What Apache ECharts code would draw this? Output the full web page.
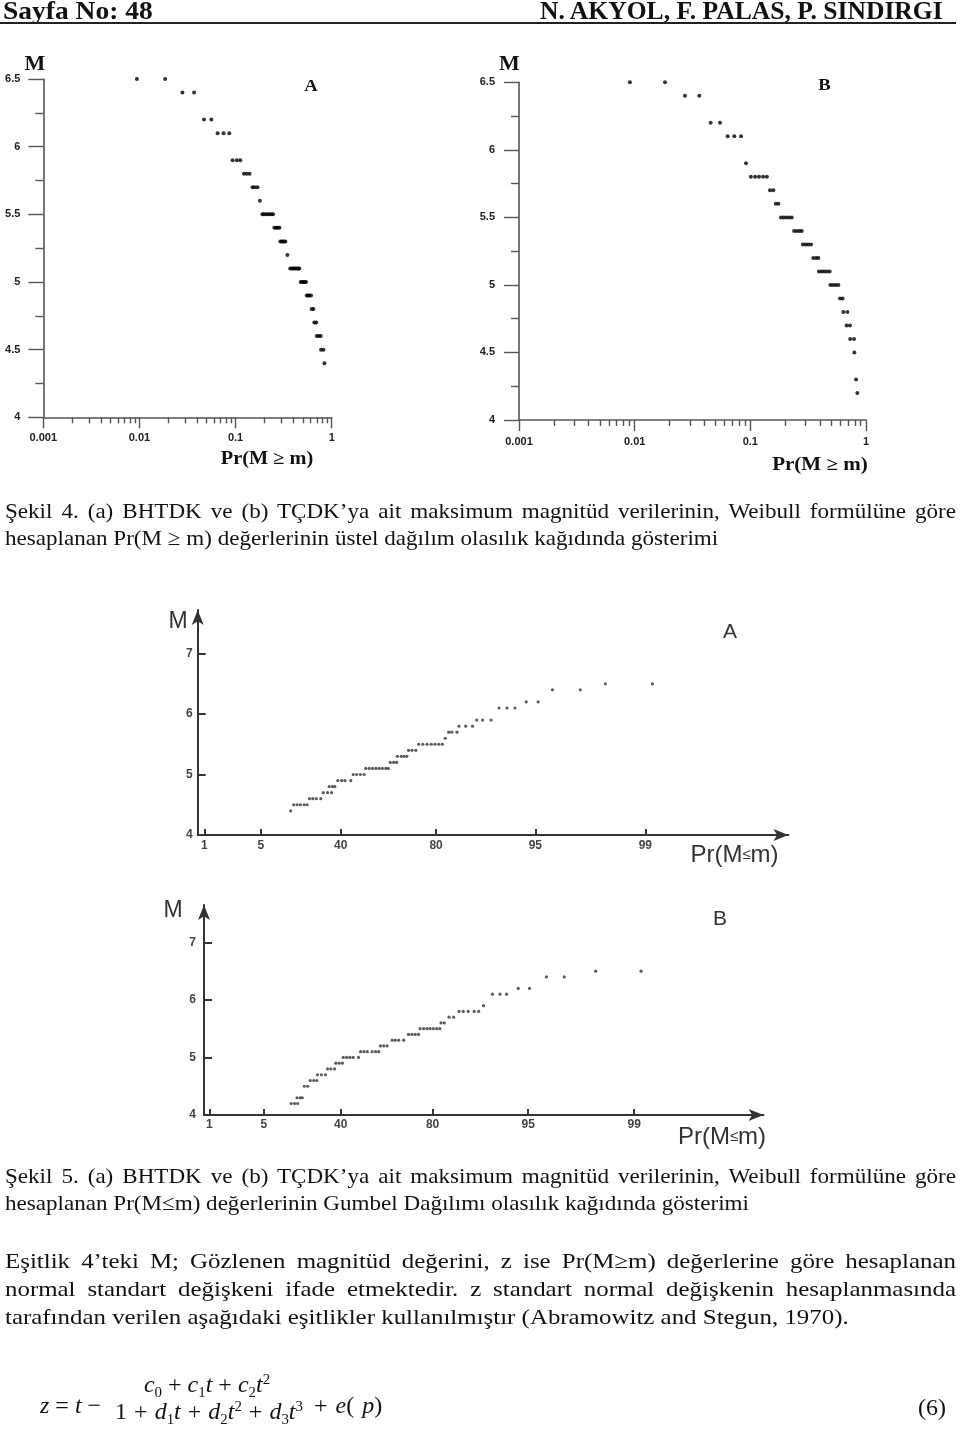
<!DOCTYPE html>
<html><head><meta charset="utf-8">
<script src="https://cdn.jsdelivr.net/npm/echarts@6/dist/echarts.min.js"></script>
<style>
html,body{margin:0;padding:0;background:#fff;}
#page{position:relative;width:960px;height:1444px;overflow:hidden;background:#fff;}
#chart{position:absolute;left:0;top:0;width:960px;height:1444px;}
.txt{position:absolute;font-family:'Liberation Serif','Times New Roman',serif;color:#111;white-space:nowrap;line-height:1;transform-origin:0 0;}
.jl{position:absolute;left:5px;font-family:'Liberation Serif','Times New Roman',serif;line-height:1;color:#111;text-align:justify;text-align-last:justify;transform-origin:0 0;}
.ll{text-align:left;text-align-last:left;}
.sb{font-size:0.62em;position:relative;top:0.32em;}
.sp{font-size:0.62em;position:relative;top:-0.55em;}
</style></head>
<body><div id="page"><div id="chart"></div></div>
<script>
// ---------------- DATA ----------------
// Top-left (A): exponential paper, Pr(M >= m) vs M
const topA_mag = [6.5,6.5, 6.4,6.4, 6.2,6.2, 6.1,6.1,6.1, 5.9,5.9,5.9, 5.8,5.8,5.8, 5.7,5.7,5.7, 5.6,
  5.5,5.5,5.5,5.5,5.5,5.5,5.5, 5.4,5.4,5.4,5.4, 5.3,5.3,5.3,5.3,5.3, 5.2,
  5.1,5.1,5.1,5.1,5.1,5.1,5.1,5.1, 5.0,5.0,5.0,5.0,5.0, 4.9,4.9,4.9,4.9, 4.8,4.8, 4.7,4.7,
  4.6,4.6,4.6, 4.5,4.5, 4.4];
const topA_pr = [0.0094,0.0185, 0.028,0.037, 0.047,0.056, 0.065,0.075,0.086, 0.093,0.103,0.112, 0.122,0.131,0.140, 0.150,0.158,0.169, 0.179,
  0.190,0.197,0.207,0.216,0.226,0.236,0.246, 0.253,0.264,0.275,0.286, 0.292,0.302,0.311,0.320,0.330, 0.346,
  0.370,0.384,0.397,0.410,0.422,0.436,0.450,0.460, 0.476,0.491,0.507,0.524,0.540, 0.550,0.568,0.586,0.610, 0.620,0.645, 0.660,0.690,
  0.700,0.733,0.769, 0.775,0.820, 0.840];

// Top-right (B)
const topB_mag = [6.5,6.5, 6.4,6.4, 6.2,6.2, 6.1,6.1,6.1, 5.9, 5.8,5.8,5.8,5.8,5.8, 5.7,5.7, 5.6,5.6,
  5.5,5.5,5.5,5.5,5.5, 5.4,5.4,5.4,5.4, 5.3,5.3,5.3,5.3, 5.2,5.2,5.2, 5.1,5.1,5.1,5.1,5.1,
  5.0,5.0,5.0,5.0, 4.9,4.9, 4.8,4.8, 4.7,4.7, 4.6,4.6, 4.5, 4.3, 4.2];
const topB_pr = [0.0091,0.0183, 0.0272,0.0362, 0.0454,0.0547, 0.0637,0.0727,0.0831, 0.0917, 0.101,0.110,0.119,0.129,0.139, 0.148,0.158, 0.166,0.175,
  0.184,0.194,0.205,0.216,0.228, 0.239,0.252,0.265,0.278, 0.285,0.301,0.317,0.335, 0.350,0.370,0.387, 0.392,0.414,0.436,0.460,0.485,
  0.492,0.518,0.547,0.577, 0.596,0.628, 0.637,0.690, 0.680,0.727, 0.730,0.788, 0.793, 0.820, 0.841];

// Bottom (A): Gumbel paper, Pr(M <= m) vs M
const botA_mag = [4.4, 4.5,4.5,4.5,4.5,4.5, 4.6,4.6,4.6,4.6, 4.7,4.7,4.7, 4.8,4.8,4.8, 4.9,4.9,4.9,4.9,
  5.0,5.0,5.0,5.0, 5.1,5.1,5.1,5.1,5.1,5.1,5.1,5.1, 5.2,5.2,5.2, 5.3,5.3,5.3,5.3, 5.4,5.4,5.4,
  5.5,5.5,5.5,5.5,5.5,5.5,5.5, 5.6, 5.7,5.7,5.7, 5.8,5.8,5.8, 5.9,5.9,5.9, 6.1,6.1,6.1, 6.2,6.2, 6.4,6.4, 6.5,6.5];
const botA_pr = [0.146, 0.159,0.174,0.189,0.207,0.221, 0.233,0.250,0.268,0.292, 0.305,0.328,0.350, 0.337,0.355,0.368, 0.384,0.405,0.423,0.454,
  0.467,0.485,0.504,0.523, 0.531,0.548,0.564,0.580,0.595,0.610,0.625,0.636, 0.644,0.658,0.670, 0.673,0.688,0.699,0.709, 0.715,0.727,0.740,
  0.749,0.762,0.775,0.787,0.797,0.807,0.816, 0.823, 0.831,0.838,0.849, 0.853,0.866,0.878, 0.885,0.894,0.906, 0.916,0.925,0.933, 0.943,0.952, 0.961,0.974, 0.982,0.991];

// Bottom (B)
const botB_mag = [4.2,4.2,4.2, 4.3,4.3,4.3, 4.5,4.5, 4.6,4.6,4.6, 4.7,4.7,4.7, 4.8,4.8,4.8, 4.9,4.9,4.9,
  5.0,5.0,5.0,5.0,5.0, 5.1,5.1,5.1,5.1,5.1,5.1, 5.2,5.2,5.2, 5.3,5.3,5.3,5.3, 5.4,5.4,5.4,5.4,
  5.5,5.5,5.5,5.5,5.5,5.5,5.5, 5.6,5.6, 5.7,5.7, 5.8,5.8,5.8,5.8,5.8, 5.9, 6.1,6.1,6.1, 6.2,6.2, 6.4,6.4, 6.5,6.5];
const botB_pr = [0.140,0.155,0.169, 0.166,0.181,0.191, 0.201,0.218, 0.231,0.250,0.266, 0.270,0.291,0.314, 0.325,0.344,0.365, 0.372,0.391,0.409,
  0.414,0.433,0.451,0.469,0.498, 0.509,0.527,0.544,0.568,0.585,0.600, 0.608,0.623,0.638, 0.660,0.673,0.687,0.706, 0.724,0.736,0.747,0.758,
  0.763,0.774,0.784,0.793,0.802,0.811,0.819, 0.822,0.830, 0.841,0.851, 0.862,0.870,0.879,0.889,0.896, 0.903, 0.915,0.924,0.931, 0.942,0.951, 0.962,0.971, 0.982,0.991];

// Gumbel-paper tick labels and the probability at which each is printed
// (the original paper prints "1" at its 0.1% position)
const gumbelTickLabels = ['1','5','40','80','95','99'];
const gumbelTickProb   = [0.001, 0.05, 0.40, 0.80, 0.95, 0.99];
const gumbelYTicks = [5, 6, 7];
const gumbelYLabels = [4, 5, 6, 7];

// ---------------- helpers ----------------
const gumbel = p => -Math.log(-Math.log(p));
const gumbelTicks = gumbelTickProb.map(gumbel);
const logMinor = [];
for (let d = -3; d < 0; d++) for (let k = 2; k <= 9; k++) logMinor.push(d + Math.log10(k));
const zip = (xs, ys, f) => xs.map((x, i) => [f ? f(x) : x, ys[i]]);

const TOPC = '#555', BOTC = '#333';
const topLabel = {color:'#222', fontFamily:'Liberation Sans', fontWeight:'bold', fontSize:11};
const botLabel = {color:'#444', fontFamily:'Liberation Sans', fontWeight:'bold', fontSize:12};

function topX(g, margin) {
  return [{
    type:'log', logBase:10, gridIndex:g, min:0.001, max:1, position:'bottom',
    axisLine:{show:true, onZero:false, lineStyle:{color:TOPC, width:1.6}},
    axisTick:{show:true, length:11, lineStyle:{color:TOPC, width:1.4}},
    axisLabel:Object.assign({margin}, topLabel),
    splitLine:{show:false}
  }, {
    type:'value', gridIndex:g, min:-3, max:0, position:'bottom',
    axisLine:{show:false, onZero:false}, axisLabel:{show:false}, splitLine:{show:false},
    axisTick:{show:true, length:6, customValues:logMinor, lineStyle:{color:TOPC, width:1.4}}
  }];
}
function topY(g, margin) {
  return {
    type:'value', gridIndex:g, min:4, max:6.5, interval:0.5, position:'left',
    axisLine:{show:true, onZero:false, lineStyle:{color:TOPC, width:1.6}},
    axisTick:{show:true, length:15, lineStyle:{color:TOPC, width:1.4}},
    minorTick:{show:true, splitNumber:2, length:8, lineStyle:{color:TOPC, width:1.4}},
    axisLabel:Object.assign({margin}, topLabel),
    splitLine:{show:false}, minorSplitLine:{show:false}
  };
}
function botX(g, min, max, margin) {
  return {
    type:'value', gridIndex:g, min, max, position:'bottom',
    axisLine:{show:true, onZero:false, symbol:['none','arrow'], symbolSize:[9,15], lineStyle:{color:BOTC, width:2}},
    axisTick:{show:true, inside:true, length:6, customValues:gumbelTicks, lineStyle:{color:BOTC, width:2}},
    axisLabel:Object.assign({margin, customValues:gumbelTicks, formatter:v => {
      let bi = 0; gumbelTicks.forEach((t, i) => { if (Math.abs(t - v) < Math.abs(gumbelTicks[bi] - v)) bi = i; });
      return gumbelTickLabels[bi];
    }}, botLabel),
    splitLine:{show:false}
  };
}
function botY(g, max, margin) {
  return {
    type:'value', gridIndex:g, min:4, max, position:'left',
    axisLine:{show:true, onZero:false, symbol:['none','arrow'], symbolSize:[9,15], lineStyle:{color:BOTC, width:2}},
    axisTick:{show:true, inside:true, length:8, customValues:gumbelYTicks, lineStyle:{color:BOTC, width:2}},
    axisLabel:Object.assign({margin, customValues:gumbelYLabels}, botLabel),
    splitLine:{show:false}
  };
}
function tx(text, x, y, font, fill, sx) {
  return {type:'text', x, y, z:100, scaleX:sx || 1, style:{text, font, fill:fill || '#111', align:'center', verticalAlign:'middle', textAlign:'center', textVerticalAlign:'middle'}};
}
function prLe(x, y) {
  return {type:'text', x, y, z:100, style:{
    text:'{a|Pr(M}{b|≤}{a|m)}', align:'center', verticalAlign:'middle', textAlign:'center', textVerticalAlign:'middle',
    rich:{a:{fontFamily:'Liberation Sans', fontSize:24, fill:'#333', color:'#333'},
          b:{fontFamily:'Liberation Sans', fontSize:15, fill:'#333', color:'#333'}}
  }};
}

const chart = echarts.init(document.getElementById('chart'), null, {renderer:'canvas', width:960, height:1444});
const tA = topX(0, 15), tB = topX(1, 16);
chart.setOption({
  animation:false,
  backgroundColor:'transparent',
  grid:[
    {left:43.3, top:79, width:288.4, height:338.3, outerBoundsMode:'none'},
    {left:519, top:82.3, width:347, height:337.7, outerBoundsMode:'none'},
    {left:197.7, top:610, width:590.7, height:225, outerBoundsMode:'none'},
    {left:204, top:905, width:559.5, height:210, outerBoundsMode:'none'}
  ],
  xAxis:[tA[0], tA[1], tB[0], tB[1], botX(2, -2.032, 6.72, 5), botX(3, -2.016, 6.59, 4)],
  yAxis:[topY(0, 23), topY(1, 24), botY(2, 7.72, 5), botY(3, 7.65, 8)],
  series:[
    {type:'scatter', xAxisIndex:0, yAxisIndex:0, symbolSize:4, itemStyle:{color:'#000'}, data:zip(topA_pr, topA_mag)},
    {type:'scatter', xAxisIndex:2, yAxisIndex:1, symbolSize:4, itemStyle:{color:'#000'}, data:zip(topB_pr, topB_mag)},
    {type:'scatter', xAxisIndex:4, yAxisIndex:2, symbolSize:3.2, itemStyle:{color:'#333'}, data:zip(botA_pr, botA_mag, gumbel)},
    {type:'scatter', xAxisIndex:5, yAxisIndex:3, symbolSize:3.2, itemStyle:{color:'#333'}, data:zip(botB_pr, botB_mag, gumbel)}
  ],
  graphic:[
    tx('M', 35, 65, 'bold 20px "Liberation Serif"', '#111', 1.1),
    tx('A', 311, 87, 'bold 17px "Liberation Serif"', '#111', 1.1),
    tx('Pr(M ≥ m)', 267, 459, 'bold 18px "Liberation Serif"', '#111', 1.13),
    tx('M', 509.5, 64.5, 'bold 20px "Liberation Serif"', '#111', 1.1),
    tx('B', 824.5, 86, 'bold 17px "Liberation Serif"', '#111', 1.1),
    tx('Pr(M ≥ m)', 820, 465, 'bold 18px "Liberation Serif"', '#111', 1.17),
    tx('M', 178, 622, '23px "Liberation Sans"', '#333'),
    tx('A', 730, 632, '21px "Liberation Sans"', '#333'),
    prLe(734.5, 855),
    tx('M', 173, 911, '23px "Liberation Sans"', '#333'),
    tx('B', 720, 919, '21px "Liberation Sans"', '#333'),
    prLe(722, 1137)
  ]
});

// ---------------- page text ----------------
const page = document.getElementById('page');
function addDiv(cls, html, css) {
  const d = document.createElement('div');
  d.className = cls; d.innerHTML = html;
  Object.assign(d.style, css);
  page.appendChild(d);
  return d;
}
const BL = 0.8375; // baseline offset (em) for line-height:1
function line(html, baseline, size, sx, last) {
  addDiv('jl' + (last ? ' ll' : ''), html, {top:(baseline - BL*size)+'px', fontSize:size+'px',
    width:(951/sx)+'px', transform:'scaleX(' + sx + ')'});
}
// header
addDiv('txt', 'Sayfa No: 48', {left:'3px', top:(19 - BL*25)+'px', fontSize:'25px', fontWeight:'bold', transform:'scaleX(1.10)'});
addDiv('txt', 'N. AKYOL, F. PALAS, P. SINDIRGI', {left:'540px', top:(19 - BL*25)+'px', fontSize:'25px', fontWeight:'bold', transform:'scaleX(1.023)'});
addDiv('txt', '', {left:'0px', top:'22px', width:'956px', height:'1.6px', background:'#222'});

const FS = 22, CSX = 1.049, PSX = 1.132;
line('Şekil 4. (a) BHTDK ve (b) TÇDK’ya ait maksimum magnitüd verilerinin, Weibull formülüne göre', 518, FS, CSX);
line('hesaplanan Pr(M ≥ m) değerlerinin üstel dağılım olasılık kağıdında gösterimi', 545, FS, CSX, true);
line('Şekil 5. (a) BHTDK ve (b) TÇDK’ya ait maksimum magnitüd verilerinin, Weibull formülüne göre', 1183, FS, CSX);
line('hesaplanan Pr(M≤m) değerlerinin Gumbel Dağılımı olasılık kağıdında gösterimi', 1210, FS, CSX, true);
line('Eşitlik 4’teki M; Gözlenen magnitüd değerini, z ise Pr(M≥m) değerlerine göre hesaplanan', 1268, FS, PSX);
line('normal standart değişkeni ifade etmektedir. z standart normal değişkenin hesaplanmasında', 1296, FS, PSX);
line('tarafından verilen aşağıdaki eşitlikler kullanılmıştır (Abramowitz and Stegun, 1970).', 1324, FS, PSX, true);

// equation (6)
const EQ = 24;
addDiv('txt', '<i>z</i> = <i>t</i> −', {left:'40px', top:(1413 - BL*EQ)+'px', fontSize:EQ+'px'});
addDiv('txt', '<i>c</i><span class="sb">0</span> + <i>c</i><span class="sb">1</span><i>t</i> + <i>c</i><span class="sb">2</span><i>t</i><span class="sp">2</span>',
  {left:'57px', width:'300px', textAlign:'center', top:(1392 - BL*EQ)+'px', fontSize:EQ+'px'});
addDiv('txt', '1 + <i>d</i><span class="sb">1</span><i>t</i> + <i>d</i><span class="sb">2</span><i>t</i><span class="sp">2</span> + <i>d</i><span class="sb">3</span><i>t</i><span class="sp">3</span>',
  {left:'59px', width:'300px', textAlign:'center', top:(1419 - BL*EQ)+'px', fontSize:EQ+'px', wordSpacing:'1px'});
addDiv('txt', '+ <i>e</i>( <i>p</i>)', {left:'314px', top:(1413 - BL*EQ)+'px', fontSize:EQ+'px', wordSpacing:'2px'});
addDiv('txt', '(6)', {left:'918px', top:(1415 - BL*EQ)+'px', fontSize:EQ+'px'});
</script></body></html>
